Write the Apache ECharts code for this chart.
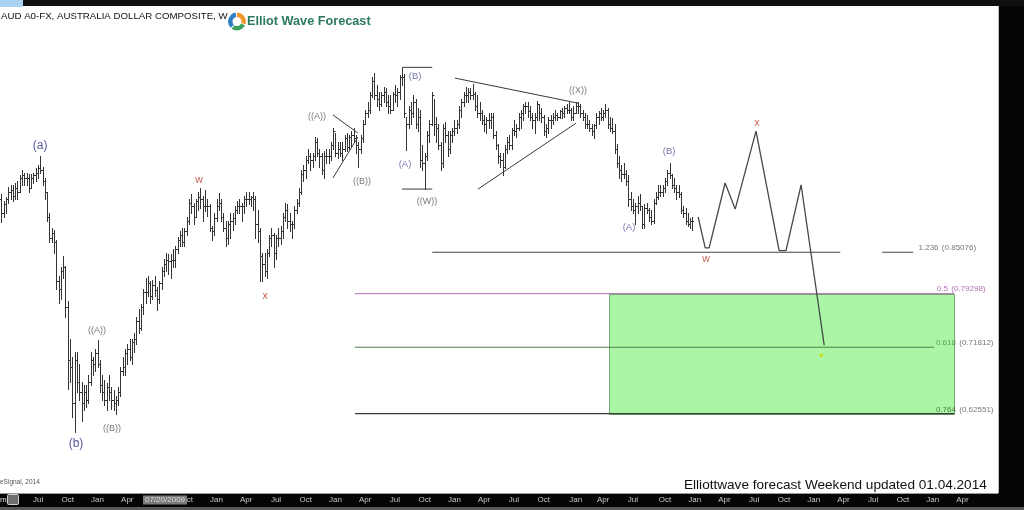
<!DOCTYPE html>
<html><head><meta charset="utf-8">
<script src="https://cdn.jsdelivr.net/npm/echarts@6/dist/echarts.min.js"></script>
<style>
html,body{margin:0;padding:0;background:#fff;overflow:hidden}
#c{width:1024px;height:510px}
</style>
</head><body><div id="c"></div>
<script>
// ---------------- data ----------------
const START_DATE = '2008-03-10';   // first weekly bar
const N_WEEKS = 437;               // weeks spanned by the time axis
const QUARTER_LABELS = {0:'Jan', 3:'Apr', 6:'Jul', 9:'Oct'};
const Y_MIN = 0.5, Y_MAX = 1.2, Y_STEP = 0.05;
const Y_TICKS = [0.55, 0.60, 0.65, 0.70, 0.75, 0.80, 0.85, 0.90, 0.95, 1.00, 1.05, 1.10, 1.15];

// weekly AUD/USD bars, Mar 2008 .. Dec 2013
const HIGH = [
 // 2008
 0.938,0.932,0.922,0.928, 0.942,0.945,0.944,0.948, 0.950,0.958,0.965,0.962, 0.962,0.960,0.960,0.962,0.968,
 0.972,0.985,0.970,0.955, 0.935,0.905,0.885,0.882, 0.868,0.818,0.830,0.845,0.832, 0.782,0.730,0.705,0.712,
 0.712,0.695,0.670,0.665, 0.665,0.680,0.712,0.705,0.715,
 // 2009
 0.728,0.700,0.680,0.672, 0.668,0.680,0.662,0.658, 0.650,0.662,0.690,0.705,0.715, 0.722,0.730,0.730,0.738,
 0.760,0.772,0.778,0.800, 0.815,0.818,0.810,0.812,0.818, 0.802,0.810,0.830,0.842, 0.850,0.848,0.848,0.855,0.860,
 0.872,0.880,0.885,0.885, 0.900,0.925,0.932,0.920, 0.925,0.935,0.940,0.930,0.938, 0.925,0.918,0.888,0.905,
 // 2010
 0.925,0.933,0.925,0.905, 0.895,0.895,0.905,0.905, 0.915,0.922,0.925,0.920,0.930, 0.935,0.935,0.930,0.935,
 0.930,0.910,0.885,0.850,0.850, 0.855,0.875,0.885,0.878, 0.875,0.885,0.888,0.905, 0.920,0.918,0.905,0.895,0.915,
 0.925,0.940,0.965,0.972, 0.985,0.995,0.990,0.990, 1.012,1.010,0.995,0.990,0.992, 0.995,0.995,1.005,1.025,
 // 2011
 1.018,1.005,1.005,1.005,1.015, 1.018,1.015,1.020,1.025, 1.015,1.005,1.015,1.035, 1.050,1.060,1.075,1.095,
 1.101,1.085,1.075,1.075,1.082, 1.080,1.070,1.070,1.075, 1.085,1.080,1.098,1.108, 1.100,1.040,1.055,1.060,1.070,
 1.065,1.052,1.050,1.000, 0.990,1.020,1.035,1.075,1.065, 1.040,1.030,1.005,1.030, 1.032,1.020,1.020,1.025,
 // 2012
 1.035,1.035,1.055,1.065,1.075, 1.082,1.080,1.080,1.086, 1.075,1.070,1.060,1.050, 1.042,1.040,1.045,1.045,1.045,
 1.020,1.002,0.990,0.990, 1.000,1.012,1.015,1.025, 1.035,1.030,1.045,1.050,1.058, 1.060,1.060,1.055,1.045,
 1.045,1.062,1.058,1.052, 1.042,1.030,1.040,1.042,1.045, 1.050,1.045,1.050,1.052, 1.055,1.058,1.060,1.052,1.055,
 // 2013
 1.060,1.060,1.058,1.050, 1.045,1.042,1.035,1.030, 1.030,1.045,1.048,1.052, 1.050,1.058,1.052,1.040,1.038,
 1.030,1.002,0.985,0.972, 0.975,0.965,0.958,0.935, 0.925,0.920,0.930,0.932,0.915, 0.918,0.920,0.912,0.910,
 0.925,0.935,0.945,0.945,0.945, 0.955,0.965,0.976,0.960, 0.955,0.945,0.945,0.935, 0.915,0.912,0.905,0.898,0.900
];
const LOW = [
 // 2008
 0.915,0.893,0.900,0.905, 0.920,0.925,0.922,0.925, 0.925,0.935,0.945,0.945, 0.945,0.935,0.940,0.948,0.950,
 0.955,0.962,0.945,0.925, 0.895,0.865,0.865,0.850, 0.800,0.780,0.785,0.815,0.760, 0.660,0.670,0.620,0.600,
 0.655,0.645,0.615,0.630, 0.635,0.640,0.665,0.680,0.685,
 // 2009
 0.690,0.655,0.645,0.638, 0.630,0.645,0.632,0.630, 0.625,0.638,0.650,0.680,0.680, 0.695,0.700,0.695,0.712,
 0.722,0.738,0.742,0.765, 0.780,0.790,0.780,0.785,0.790, 0.770,0.780,0.800,0.818, 0.825,0.820,0.815,0.830,0.830,
 0.850,0.860,0.860,0.860, 0.875,0.890,0.905,0.890, 0.900,0.910,0.912,0.895,0.908, 0.902,0.880,0.868,0.875,
 // 2010
 0.895,0.910,0.895,0.880, 0.860,0.862,0.870,0.882, 0.890,0.905,0.905,0.895,0.905, 0.915,0.918,0.915,0.910,
 0.870,0.865,0.810,0.810,0.818, 0.815,0.845,0.860,0.830, 0.842,0.860,0.862,0.870, 0.895,0.885,0.880,0.870,0.885,
 0.905,0.915,0.932,0.950, 0.955,0.975,0.965,0.970, 0.980,0.985,0.970,0.960,0.955, 0.975,0.975,0.980,0.995,
 // 2011
 0.985,0.982,0.985,0.980,0.992, 0.992,0.995,0.998,1.005, 0.990,0.970,0.990,1.005, 1.030,1.040,1.045,1.068,
 1.065,1.055,1.050,1.055,1.060, 1.055,1.045,1.045,1.050, 1.060,1.055,1.065,1.085, 1.040,0.994,1.025,1.030,1.040,
 1.025,1.020,0.970,0.965, 0.939,0.980,1.005,1.028,1.015, 1.005,0.995,0.965,0.970, 1.005,0.985,0.990,1.005,
 // 2012
 1.015,1.018,1.025,1.040,1.055, 1.060,1.060,1.065,1.065, 1.050,1.040,1.035,1.030, 1.020,1.018,1.025,1.025,1.010,
 0.995,0.975,0.970,0.958, 0.968,0.990,0.995,0.995, 1.015,1.012,1.022,1.025,1.035, 1.045,1.040,1.035,1.025,
 1.018,1.035,1.035,1.032, 1.015,1.012,1.018,1.025,1.030, 1.035,1.035,1.038,1.038, 1.040,1.045,1.045,1.035,1.035,
 // 2013
 1.045,1.045,1.040,1.035, 1.025,1.025,1.020,1.015, 1.010,1.025,1.030,1.035, 1.035,1.040,1.025,1.020,1.018,
 0.990,0.970,0.955,0.950, 0.955,0.945,0.915,0.910, 0.905,0.890,0.905,0.910,0.885, 0.885,0.905,0.895,0.890,
 0.892,0.918,0.925,0.930,0.930, 0.935,0.945,0.955,0.940, 0.935,0.925,0.928,0.905, 0.900,0.890,0.888,0.885,0.882
];
const CLOSE = [
 // 2008
 0.925,0.905,0.918,0.925, 0.935,0.938,0.930,0.940, 0.935,0.955,0.958,0.955, 0.955,0.940,0.955,0.958,0.962,
 0.968,0.965,0.950,0.935, 0.900,0.870,0.878,0.865, 0.810,0.800,0.825,0.830,0.775, 0.700,0.690,0.640,0.700,
 0.670,0.655,0.640,0.655, 0.645,0.670,0.700,0.695,0.710,
 // 2009
 0.695,0.665,0.655,0.645, 0.662,0.655,0.645,0.640, 0.645,0.655,0.685,0.690,0.710, 0.715,0.705,0.725,0.730,
 0.755,0.745,0.775,0.795, 0.795,0.808,0.790,0.805,0.798, 0.785,0.808,0.825,0.835, 0.840,0.838,0.840,0.840,0.855,
 0.868,0.875,0.865,0.880, 0.895,0.920,0.915,0.900, 0.922,0.928,0.925,0.915,0.915, 0.915,0.885,0.880,0.898,
 // 2010
 0.915,0.920,0.900,0.885, 0.870,0.890,0.895,0.898, 0.910,0.915,0.915,0.915,0.925, 0.925,0.925,0.928,0.925,
 0.890,0.880,0.845,0.835,0.825, 0.850,0.870,0.875,0.850, 0.870,0.870,0.880,0.900, 0.910,0.895,0.890,0.890,0.910,
 0.920,0.935,0.960,0.965, 0.980,0.985,0.980,0.985, 1.005,0.990,0.985,0.965,0.985, 0.985,0.985,1.000,1.020,
 // 2011
 0.990,0.995,0.990,0.995,1.010, 0.998,1.012,1.015,1.010, 1.000,0.995,1.010,1.030, 1.045,1.050,1.070,1.090,
 1.070,1.065,1.058,1.070,1.075, 1.060,1.055,1.050,1.072, 1.070,1.075,1.095,1.095, 1.045,1.030,1.050,1.045,1.060,
 1.030,1.040,0.980,0.975, 0.985,1.015,1.030,1.070,1.030, 1.025,1.000,0.975,1.025, 1.015,0.995,1.015,1.020,
 // 2012
 1.025,1.030,1.050,1.060,1.070, 1.070,1.075,1.070,1.072, 1.055,1.045,1.045,1.035, 1.030,1.035,1.035,1.040,1.015,
 1.000,0.985,0.980,0.970, 0.995,1.005,1.000,1.022, 1.020,1.025,1.040,1.045,1.055, 1.055,1.048,1.040,1.035,
 1.040,1.058,1.045,1.040, 1.020,1.025,1.035,1.035,1.040, 1.042,1.040,1.048,1.045, 1.052,1.050,1.050,1.040,1.045,
 // 2013
 1.055,1.055,1.045,1.040, 1.030,1.030,1.025,1.020, 1.028,1.040,1.045,1.040, 1.045,1.050,1.030,1.025,1.020,
 0.995,0.975,0.965,0.960, 0.960,0.950,0.925,0.915, 0.910,0.915,0.920,0.915,0.890, 0.912,0.910,0.900,0.895,
 0.920,0.928,0.935,0.935,0.940, 0.950,0.962,0.958,0.945, 0.940,0.935,0.932,0.910, 0.905,0.895,0.890,0.895,0.894
];

// projected wave path (week index, price)
const PROJ_WEEK  = [305.5, 308.6, 310.3, 317.3, 321.7, 330.8, 340.9, 343.9, 350.5, 360.6];
const PROJ_PRICE = [0.900, 0.857, 0.857, 0.9475, 0.911, 1.020, 0.853, 0.853, 0.945, 0.721];

// Fibonacci levels
const FIB_NAMES  = ['1.236', '0.5', '0.618', '0.764'];
const FIB_VALUES = [0.85076, 0.79298, 0.71812, 0.62551];

// hand-drawn trend lines: [week1, price1, week2, price2]
const TRENDLINES = [
  [145.9, 1.0425, 156.8, 1.0173],
  [145.9, 0.9545, 156.8, 1.0117],
  [176.1, 1.1090, 189.3, 1.1090],
  [176.1, 0.9390, 189.3, 0.9390],
  [199.2, 1.0940, 253.0, 1.0590],
  [209.3, 0.9390, 252.1, 1.0310]
];

// wave labels
const WAVE_TEXT  = ['(a)','(b)','((A))','((B))','w','x','((A))','((B))','(A)','(B)','((W))','((X))','(A)','(B)','w','x'];
const WAVE_WEEK  = [17.9, 33.6, 42.8, 49.3, 87.4, 116.2, 138.9, 158.6, 177.4, 181.8, 187.0, 253.0, 275.3, 292.8, 309.0, 331.2];
const WAVE_PRICE = [0.999, 0.583, 0.742, 0.605, 0.952, 0.790, 1.040, 0.950, 0.974, 1.097, 0.922, 1.077, 0.886, 0.991, 0.841, 1.031];
const WAVE_KIND  = ['big','big','dbl','dbl','red','red','dbl','dbl','sgl','sgl','dbl','dbl','sgl','sgl','red','red'];

const LAST_PRICE = 0.8942;
const AXIS_TOP_PRICE = 1.1862;
const CURSOR_DATE = '07/20/2009';
const TITLE = 'AUD A0-FX, AUSTRALIA DOLLAR COMPOSITE, W';
const FOOTER = 'Elliottwave forecast Weekend updated 01.04.2014';

// ---------------- build ----------------
const weeks = [];
{
  const t0 = Date.parse(START_DATE + 'T00:00:00Z');
  for (let i = 0; i < N_WEEKS; i++) weeks.push(new Date(t0 + i * 7 * 864e5).toISOString().slice(0, 10));
}
const monthOf = i => +weeks[i].slice(5, 7) - 1;
const isQuarterStart = i => i > 0 && (monthOf(i) in QUARTER_LABELS) && monthOf(i - 1) !== monthOf(i);

const ohlc = HIGH.map((h, i) => [i, i ? CLOSE[i - 1] : CLOSE[i], h, LOW[i], CLOSE[i]]);
const FONT = 'Liberation Sans, Arial, sans-serif';

const waveStyles = {
  big: {color: '#2d2d84', fontSize: 12},
  dbl: {color: '#555555', fontSize: 9},
  sgl: {color: '#55559c', fontSize: 9.5},
  red: {color: '#b5372a', fontSize: 10.5}
};

function barItem(params, api) {
  const i = api.value(0);
  const pO = api.coord([i, api.value(1)]);
  const pH = api.coord([i, api.value(2)]);
  const pL = api.coord([i, api.value(3)]);
  const pC = api.coord([i, api.value(4)]);
  const x = Math.round(pH[0]) + 0.5;
  const st = {stroke: '#343434', lineWidth: 1};
  return {type: 'group', children: [
    {type: 'line', shape: {x1: x, y1: Math.round(pH[1]), x2: x, y2: Math.round(pL[1]) + 1}, style: st},
    {type: 'line', shape: {x1: x - 1.5, y1: Math.round(pO[1]) + 0.5, x2: x, y2: Math.round(pO[1]) + 0.5}, style: st},
    {type: 'line', shape: {x1: x, y1: Math.round(pC[1]) + 0.5, x2: x + 1.5, y2: Math.round(pC[1]) + 0.5}, style: st}
  ]};
}

const series = [];
// green target box between 0.5 and 0.764
series.push({
  type: 'custom', z: 1, silent: true, clip: true,
  data: [[266.6, 417.4, FIB_VALUES[1], FIB_VALUES[3]]],
  renderItem: (p, api) => {
    const a = api.coord([api.value(0), api.value(2)]);
    const b = api.coord([api.value(1), api.value(3)]);
    return {type: 'rect', shape: {x: Math.round(a[0]) + 0.5, y: Math.round(a[1]) + 0.5, width: Math.round(b[0] - a[0]), height: Math.round(b[1] - a[1])},
      style: {fill: '#abf6a4', stroke: '#72a872', lineWidth: 1}};
  }
});
// fib lines
const fibExtents = [[[189.3, 367.6], [385.9, 399.5]], [[155.5, 417.4]], [[155.5, 408.7]], [[155.5, 417.4]]];
const fibColors = ['#444444', '#b46db4', '#4f7f4f', '#3a3a3a'];
FIB_VALUES.forEach((v, k) => {
  const d = [];
  fibExtents[k].forEach((seg, s) => { if (s) d.push([seg[0] - 1, '-']); d.push([seg[0], v], [seg[1], v]); });
  series.push({type: 'line', z: 3, silent: true, symbol: 'none', data: d,
    lineStyle: {color: fibColors[k], width: k === 1 ? 1 : 1.2}});
});
// fib labels
const fibLabelWeek = [401.6, 409.6, 409.2, 409.2];
const fibLabelOffset = [-4, -5, -4, -4];
const fibRich = {
  k: {color: '#555', fontSize: 8, fontFamily: FONT},
  p: {color: '#9a4a9a', fontSize: 8, fontFamily: FONT},
  g: {color: '#3f8f3f', fontSize: 8, fontFamily: FONT},
  d: {color: '#2f5f2f', fontSize: 8, fontFamily: FONT}
};
const fibNameStyle = ['k', 'p', 'g', 'd'];
const fibValStyle = ['k', 'p', 'k', 'k'];
series.push({
  type: 'scatter', z: 8, silent: true, symbolSize: 1, itemStyle: {color: 'rgba(0,0,0,0)'},
  data: FIB_VALUES.map((v, k) => ({
    value: [fibLabelWeek[k], v],
    label: {show: true, position: 'right', distance: 0, offset: [0, fibLabelOffset[k]], rich: fibRich,
      formatter: '{' + fibNameStyle[k] + '|' + FIB_NAMES[k] + '} {' + fibValStyle[k] + '|(' + v.toFixed(5) + ')}'}
  }))
});
// price bars
series.push({type: 'custom', z: 5, clip: true, silent: true, data: ohlc, renderItem: barItem, encode: {x: 0, y: [1, 2, 3, 4]}});
// trend lines
TRENDLINES.forEach(t => series.push({type: 'line', z: 6, silent: true, symbol: 'none',
  data: [[t[0], t[1]], [t[2], t[3]]], lineStyle: {color: '#3a3a3a', width: 1}}));
// projection
series.push({type: 'line', z: 7, silent: true, symbol: 'none',
  data: PROJ_WEEK.map((w, i) => [w, PROJ_PRICE[i]]), lineStyle: {color: '#474747', width: 1.3}});
// target dot
series.push({type: 'scatter', z: 7, silent: true, symbolSize: 4, itemStyle: {color: '#c6dc10'},
  data: [[359.3, 0.707]]});
// wave labels
series.push({
  type: 'scatter', z: 9, silent: true, symbolSize: 1, itemStyle: {color: 'rgba(0,0,0,0)'},
  data: WAVE_TEXT.map((t, i) => ({
    value: [WAVE_WEEK[i], WAVE_PRICE[i]],
    label: Object.assign({show: true, position: 'inside', formatter: t, fontFamily: FONT}, waveStyles[WAVE_KIND[i]])
  }))
});

const chart = echarts.init(document.getElementById('c'));
chart.setOption({
  animation: false,
  backgroundColor: '#ffffff',
  grid: {left: 0, right: 26, top: 2.2, bottom: 6.6},
  // week-index axis; the plot starts a little inside the first week
  xAxis: {type: 'value', min: 0.374, max: 436.56, show: false},
  yAxis: {type: 'value', position: 'right', min: Y_MIN, max: Y_MAX, interval: Y_STEP,
    splitLine: {show: false}, axisLine: {show: false}, axisTick: {show: false}, axisLabel: {show: false}},
  series: series
});

const toX = i => chart.convertToPixel({xAxisIndex: 0}, i);
const toY = v => chart.convertToPixel({yAxisIndex: 0}, v);
const txt = (id, x, y, text, font, fill, extra) => ({type: 'text', id, z: 1100, silent: true, x, y,
  style: Object.assign({text, font, fill, verticalAlign: 'middle'}, extra || {})});
const bg = (id, x, y, w, h, fill, z) => ({type: 'rect', id, z: z, silent: true, shape: {x, y, width: w, height: h}, style: {fill}});

const elements = [
  bg('botbar', 0, 493, 1024, 14, '#050505', 1000),
  bg('botstrip', 0, 507, 1024, 3, '#5a5a5a', 1000),
  {type: 'line', id: 'botline', z: 1001, silent: true, shape: {x1: 0, y1: 493.5, x2: 998, y2: 493.5}, style: {stroke: '#9a9a9a', lineWidth: 1}},
  txt('title', 1, 16.5, TITLE, '9.7px ' + FONT, '#111'),
  {type: 'sector', id: 'lg1', z: 1100, silent: true, shape: {cx: 237, cy: 21.5, r: 9, r0: 4.5, startAngle: Math.PI * 0.75, endAngle: Math.PI * 1.45}, style: {fill: '#2f7fc2'}},
  {type: 'sector', id: 'lg2', z: 1100, silent: true, shape: {cx: 237, cy: 21.5, r: 9, r0: 4.5, startAngle: Math.PI * 1.5, endAngle: Math.PI * 2.1}, style: {fill: '#f2962a'}},
  {type: 'sector', id: 'lg3', z: 1100, silent: true, shape: {cx: 237, cy: 21.5, r: 9, r0: 4.5, startAngle: Math.PI * 0.15, endAngle: Math.PI * 0.7}, style: {fill: '#3aa35a'}},
  txt('brand', 247, 21, 'Elliot Wave Forecast', 'bold 12.7px ' + FONT, '#2b7a5b'),
  txt('src', 0, 482, 'eSignal, 2014', '6.5px ' + FONT, '#555'),
  txt('footer', 684, 485, FOOTER, '13.6px ' + FONT, '#111')
];
// time-axis labels at the first week of each quarter, placed through the x scale
weeks.forEach((w, i) => {
  const x = toX(i);
  if (isQuarterStart(i) && x > 24 && x < 990) elements.push(txt('xt' + i, x, 500, QUARTER_LABELS[monthOf(i)], '8px ' + FONT, '#c8c8c8', {align: 'center'}));
});
elements.push(txt('cursor', 143, 500, CURSOR_DATE, '8px ' + FONT, '#dcdcdc', {backgroundColor: '#7c7c7c', padding: [1, 2, 0, 2], z: 1105}));
elements.push(txt('m', 0, 500, 'm', '8px ' + FONT, '#e0e0e0', {z: 1110}));
elements.push({type: 'rect', id: 'fitbox', z: 1110, silent: true, shape: {x: 7.5, y: 494.5, width: 11, height: 10, r: 1}, style: {fill: '#6e6e6e', stroke: '#d0d0d0', lineWidth: 1}});
elements.push(txt('fit', 9, 500, 'fit', '6px ' + FONT, '#eee', {z: 1111}));
// frame: top bar and price-axis column
elements.push(bg('topbar', 0, 0, 1024, 6, '#101010', 1150));
elements.push(bg('bluebox', 0, 0, 23, 7, '#a9d2f3', 1155));
elements.push(bg('col', 998, 6, 26, 487, '#050505', 1150));
elements.push({type: 'line', id: 'colline', z: 1151, silent: true, shape: {x1: 998.5, y1: 6, x2: 998.5, y2: 493}, style: {stroke: '#bdbdbd', lineWidth: 1}});
// price-axis tick labels, placed through the y scale
Y_TICKS.forEach((v, k) => elements.push(txt('yt' + k, 1002, toY(v), v.toFixed(4), '8px ' + FONT, '#a8a8a8', {z: 1200})));
// price tags
elements.push(txt('toptag', 999, toY(AXIS_TOP_PRICE), AXIS_TOP_PRICE.toFixed(4), '8px ' + FONT, '#e8e8e8',
  {backgroundColor: '#777777', padding: [1, 2, 0, 3], z: 1210}));
elements.push(txt('lasttag', 1000, toY(LAST_PRICE), LAST_PRICE.toFixed(4), '8px ' + FONT, '#ffffff',
  {backgroundColor: '#050505', padding: [1, 1, 0, 2], z: 1210}));

chart.setOption({graphic: {elements}});
</script>
</body></html>
